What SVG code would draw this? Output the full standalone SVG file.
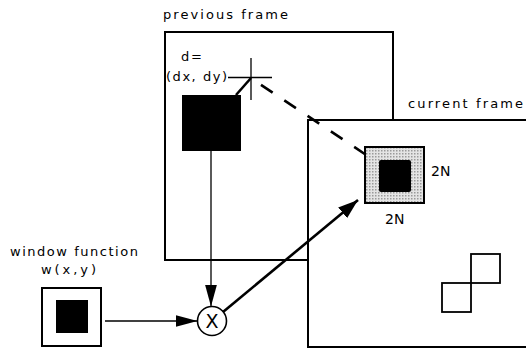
<svg xmlns="http://www.w3.org/2000/svg" width="526" height="348" viewBox="0 0 526 348">
<style>
text{font-family:"DejaVu Sans","Liberation Sans",sans-serif;font-size:13px;fill:#000}
.big{font-size:14px}
.frame{fill:#fff;stroke:#000;stroke-width:2}
.thin{stroke:#000;stroke-width:1.3;fill:none}
.thick{stroke:#000;stroke-width:2.6;fill:none}
</style>
<defs>
<marker id="ah" markerUnits="userSpaceOnUse" markerWidth="22" markerHeight="12" refX="22" refY="6" orient="auto">
<path d="M0,0 L22,6 L0,12 z" fill="#000"/>
</marker>
<marker id="ahb" markerUnits="userSpaceOnUse" markerWidth="20" markerHeight="14" refX="20" refY="7" orient="auto">
<path d="M0,0 L20,7 L0,14 z" fill="#000"/>
</marker>
<pattern id="stipple" width="3" height="3" patternUnits="userSpaceOnUse">
<rect width="3" height="3" fill="#e4e4e4"/>
<rect width="1.5" height="1.5" fill="#9a9a9a"/>
</pattern>
</defs>
<g id="previous-frame">
<rect class="frame" x="165" y="32" width="228" height="228"/>
<text x="163" y="19" textLength="125" lengthAdjust="spacing">previous frame</text>
<rect x="182" y="95" width="59" height="56" fill="#000"/>
<text x="181" y="61" textLength="21" lengthAdjust="spacing">d=</text>
<text x="166" y="81" textLength="61" lengthAdjust="spacing">(dx, dy)</text>
<line class="thin" x1="228" y1="77.5" x2="272" y2="77.5"/>
<line class="thin" x1="251" y1="58" x2="251" y2="100"/>
<line class="thick" x1="251" y1="78" x2="236" y2="95"/>
</g>
<g id="current-frame">
<path class="frame" d="M526,120 L308,120 L308,347 L526,347"/>
<text x="408" y="108" textLength="115" lengthAdjust="spacing">current frame</text>
<rect x="365" y="147" width="59" height="56" fill="url(#stipple)" stroke="#000" stroke-width="2"/>
<rect x="379" y="160" width="32" height="32" rx="2" fill="#000"/>
<text class="big" x="431" y="176">2N</text>
<text class="big" x="385" y="224">2N</text>
<rect x="471" y="254" width="29" height="29" fill="none" stroke="#000" stroke-width="1.8"/>
<rect x="442" y="283" width="29" height="29" fill="none" stroke="#000" stroke-width="1.8"/>
</g>
<g id="window-function">
<text x="10" y="256" textLength="128" lengthAdjust="spacing">window function</text>
<text x="41" y="274" textLength="55" lengthAdjust="spacing">w(x,y)</text>
<rect x="42" y="288" width="59" height="58" fill="#fff" stroke="#000" stroke-width="2"/>
<rect x="56" y="300" width="32" height="33" fill="#000"/>
</g>
<g id="multiplier">
<circle cx="212" cy="321" r="14.5" fill="#fff" stroke="#000" stroke-width="1.6"/>
<text x="212" y="328" text-anchor="middle" style="font-size:19px">X</text>
</g>
<g id="connectors">
<line class="thin" x1="211" y1="151" x2="211" y2="306.5" marker-end="url(#ah)"/>
<line class="thin" x1="105" y1="321" x2="197.5" y2="321" marker-end="url(#ah)"/>
<line class="thick" x1="223" y1="312" x2="358" y2="200" marker-end="url(#ahb)"/>
<line class="thick" x1="256" y1="81.5" x2="370" y2="157.5" stroke-dasharray="14,14" stroke-dashoffset="-6"/>
</g>
</svg>
